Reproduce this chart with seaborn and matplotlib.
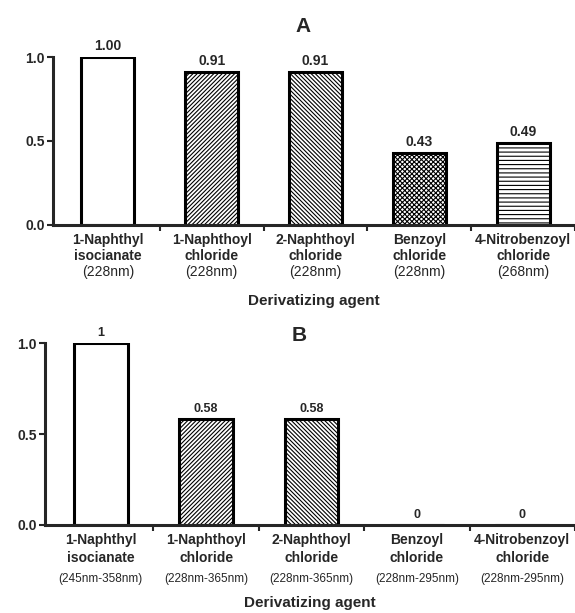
import matplotlib
matplotlib.use("Agg")
import matplotlib.pyplot as plt
import seaborn as sns
import pandas as pd

sns.set_style("ticks")
plt.rcParams['font.family'] = ['Liberation Sans', 'DejaVu Sans']
plt.rcParams['hatch.linewidth'] = 0.8

agents = ["1-Naphthyl\nisocianate", "1-Naphthoyl\nchloride", "2-Naphthoyl\nchloride",
          "Benzoyl\nchloride", "4-Nitrobenzoyl\nchloride"]
values_a = [1.00, 0.91, 0.91, 0.43, 0.49]
labels_a = ["1.00", "0.91", "0.91", "0.43", "0.49"]
nm_a = ["(228nm)", "(228nm)", "(228nm)", "(228nm)", "(268nm)"]
values_b = [1.0, 0.58, 0.58, 0.0, 0.0]
labels_b = ["1", "0.58", "0.58", "0", "0"]
nm_b = ["(245nm-358nm)", "(228nm-365nm)", "(228nm-365nm)", "(228nm-295nm)", "(228nm-295nm)"]
agents_b = ["1-Naphthyl\nisocianate", "1-Naphthoyl\nchloride", "2-Naphthoyl\nchloride",
            "Benzoyl\nchloride", "4-Nitrobenzoyl\nchloride"]
hatches = ["", "////////", "\\\\\\\\\\\\\\\\", "xxxxxxx", "----"]

fig = plt.figure(figsize=(5.75, 6.13), dpi=100)
ax1 = fig.add_axes([0.092, 0.633, 0.908, 0.274])
ax2 = fig.add_axes([0.078, 0.144, 0.922, 0.296])


def draw(ax, names, vals, labs, nms, title, vfs, tfs, lsp, nmfs, nm_y, xl_y, title_y):
    df = pd.DataFrame({"agent": names, "val": vals})
    sns.barplot(data=df, x="agent", y="val", color="white", edgecolor="black",
                linewidth=2.2, width=0.51, ax=ax, saturation=1)
    for p, h in zip(ax.patches, hatches):
        p.set_hatch(h)
        p.set_facecolor("white")
    for i, (v, l) in enumerate(zip(vals, labs)):
        ax.annotate(l, (i, v), xytext=(0, 3), textcoords="offset points",
                    ha="center", va="bottom", fontsize=vfs, fontweight="bold",
                    annotation_clip=False)
    ax.set_ylim(0, 1.0)
    ax.set_xlim(-0.53, 4.5)
    ax.set_yticks([0.0, 0.5, 1.0])
    ax.set_yticklabels(["0.0", "0.5", "1.0"], fontsize=10, fontweight="bold")
    ax.set_xticks(range(5))
    ax.set_xticklabels(names, fontsize=tfs, fontweight="bold", linespacing=lsp)
    ax.tick_params(axis="x", length=0, pad=6)
    ax.set_xticks([0.5, 1.5, 2.5, 3.5, 4.5], minor=True)
    ax.tick_params(axis="x", which="minor", length=4, width=1.5)
    ax.tick_params(axis="y", length=4, width=1.5, pad=2)
    for s in ["top", "right"]:
        ax.spines[s].set_visible(False)
    for s in ["left", "bottom"]:
        ax.spines[s].set_linewidth(2.2)
    ax.set_xlabel("")
    ax.set_ylabel("")
    for i, t in enumerate(nms):
        ax.text(i, nm_y, t, transform=ax.get_xaxis_transform(), ha="center",
                va="center", fontsize=nmfs)
    ax.text(0.5, xl_y, "Derivatizing agent", transform=ax.transAxes, ha="center",
            va="center", fontsize=11, fontweight="bold")
    ax.text(0.48, title_y, title, transform=ax.transAxes, ha="center",
            va="center", fontsize=15, fontweight="bold")


draw(ax1, agents, values_a, labels_a, nm_a, "A", 10, 10, 1.12, 10, -0.28, -0.452, 1.18)
draw(ax2, agents_b, values_b, labels_b, nm_b, "B", 9, 10, 1.35, 8.5, -0.30, -0.43, 1.045)

fig.savefig("out.png", dpi=100)
